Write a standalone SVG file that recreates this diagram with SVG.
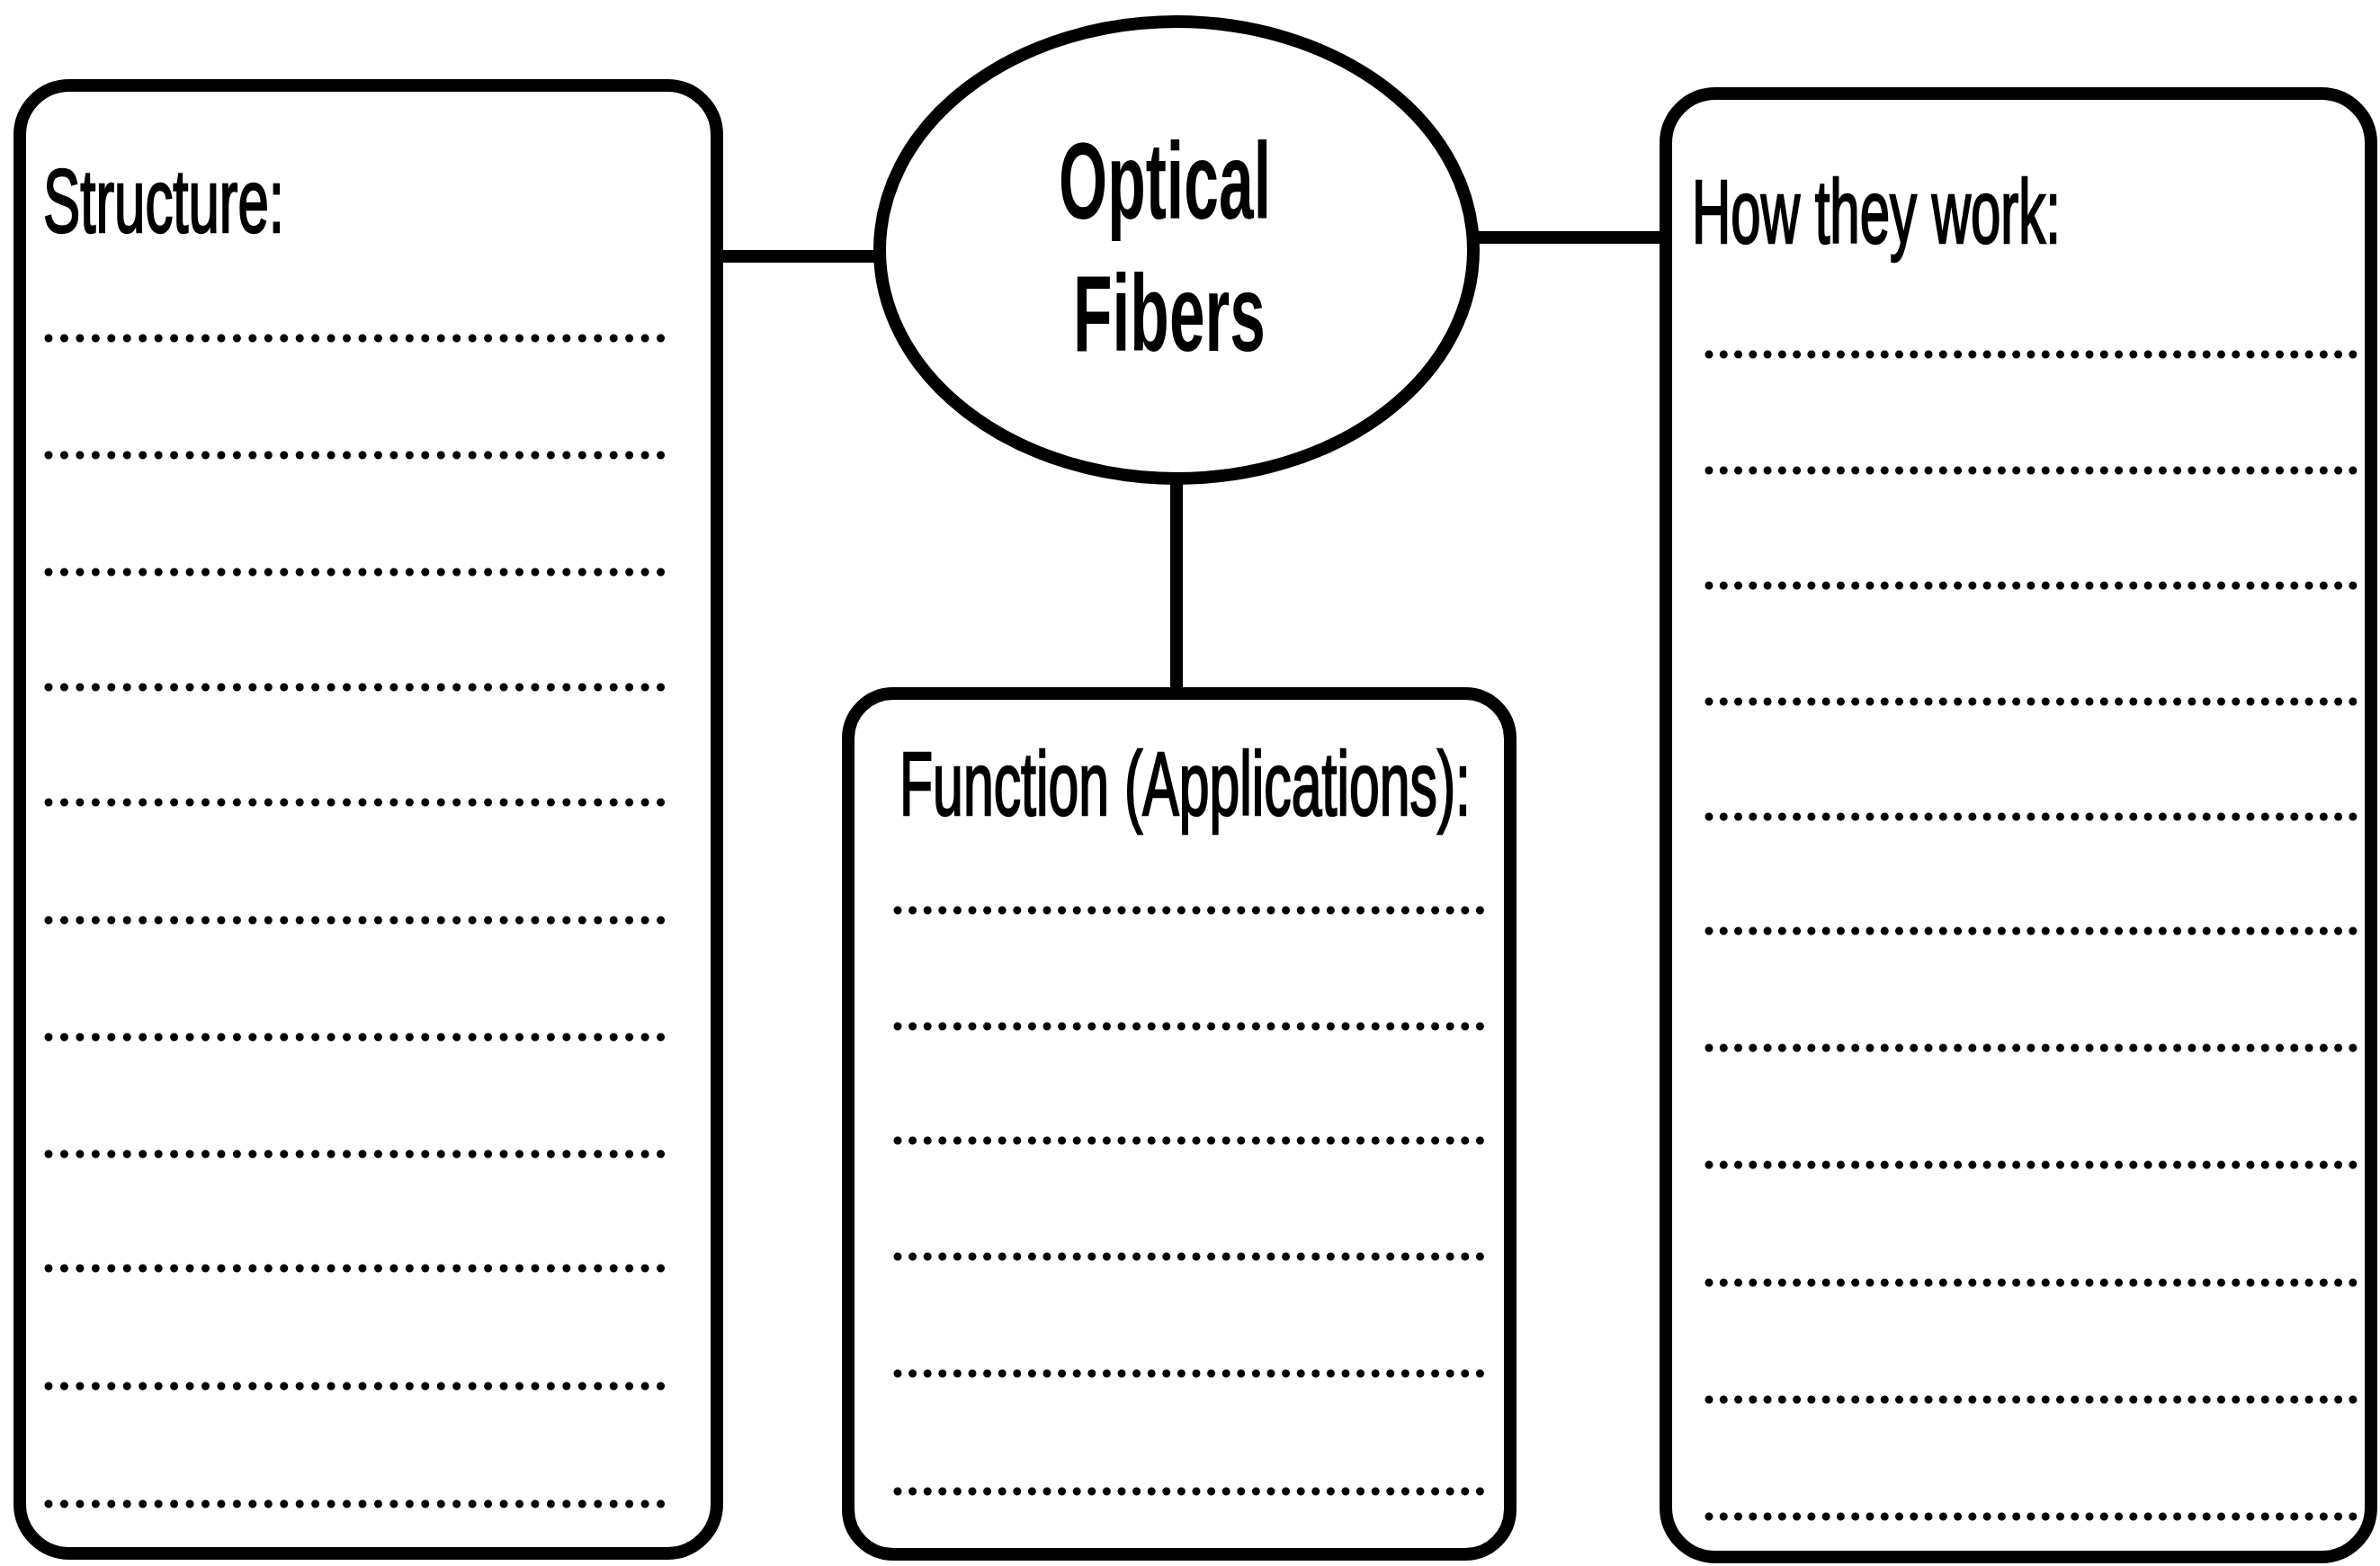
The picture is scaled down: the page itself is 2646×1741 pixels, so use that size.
<svg xmlns="http://www.w3.org/2000/svg" width="2646" height="1741" viewBox="0 0 2646 1741">
<style>
.box{fill:#fff;stroke:#000;stroke-width:14}
.conn{stroke:#000;stroke-width:14;fill:none}
.dots{stroke:#000;stroke-width:9;stroke-linecap:round;fill:none}
.lbl{font-family:"Liberation Sans",Arial,sans-serif;font-size:100px;fill:#000;stroke:#000;stroke-width:2.5}
.ttl{font-family:"Liberation Sans",Arial,sans-serif;font-size:120px;font-weight:bold;fill:#000}
</style>
<rect width="2646" height="1741" fill="#fff"/>
<g id="connectors">
<line class="conn" x1="797" y1="285" x2="975" y2="285"/>
<line class="conn" x1="1641" y1="264" x2="1852" y2="264"/>
<line class="conn" x1="1308" y1="532" x2="1308" y2="771"/>
</g>
<g id="node-structure">
<rect class="box" x="22" y="95" width="775" height="1632" rx="55"/>
<text class="lbl" x="48" y="258" textLength="268" lengthAdjust="spacingAndGlyphs">Structure:</text>
<g class="dots" stroke-dasharray="0 17.45">
<line x1="54" y1="376" x2="752" y2="376"/>
<line x1="54" y1="506" x2="752" y2="506"/>
<line x1="54" y1="636" x2="752" y2="636"/>
<line x1="54" y1="764" x2="752" y2="764"/>
<line x1="54" y1="892" x2="752" y2="892"/>
<line x1="54" y1="1023" x2="752" y2="1023"/>
<line x1="54" y1="1153" x2="752" y2="1153"/>
<line x1="54" y1="1283" x2="752" y2="1283"/>
<line x1="54" y1="1410" x2="752" y2="1410"/>
<line x1="54" y1="1541" x2="752" y2="1541"/>
<line x1="54" y1="1672" x2="752" y2="1672"/>
</g>
</g>
<g id="node-optical-fibers">
<ellipse class="box" cx="1308" cy="278" rx="330" ry="254"/>
<text class="ttl" x="1295" y="243" text-anchor="middle" textLength="236" lengthAdjust="spacingAndGlyphs">Optical</text>
<text class="ttl" x="1300" y="390" text-anchor="middle" textLength="214" lengthAdjust="spacingAndGlyphs">Fibers</text>
</g>
<g id="node-function">
<rect class="box" x="943" y="771" width="736" height="957" rx="50"/>
<text class="lbl" x="1000" y="906" textLength="635" lengthAdjust="spacingAndGlyphs">Function (Applications):</text>
<g class="dots" stroke-dasharray="0 16.6">
<line x1="998" y1="1012" x2="1646" y2="1012"/>
<line x1="998" y1="1141" x2="1646" y2="1141"/>
<line x1="998" y1="1268" x2="1646" y2="1268"/>
<line x1="998" y1="1397" x2="1646" y2="1397"/>
<line x1="998" y1="1527" x2="1646" y2="1527"/>
<line x1="998" y1="1658" x2="1646" y2="1658"/>
</g>
</g>
<g id="node-how">
<rect class="box" x="1852" y="104" width="784" height="1627" rx="55"/>
<text class="lbl" x="1881" y="270" textLength="410" lengthAdjust="spacingAndGlyphs">How they work:</text>
<g class="dots" stroke-dasharray="0 16.27">
<line x1="1900" y1="394" x2="2616" y2="394"/>
<line x1="1900" y1="523" x2="2616" y2="523"/>
<line x1="1900" y1="651" x2="2616" y2="651"/>
<line x1="1900" y1="780" x2="2616" y2="780"/>
<line x1="1900" y1="908" x2="2616" y2="908"/>
<line x1="1900" y1="1035" x2="2616" y2="1035"/>
<line x1="1900" y1="1165" x2="2616" y2="1165"/>
<line x1="1900" y1="1295" x2="2616" y2="1295"/>
<line x1="1900" y1="1426" x2="2616" y2="1426"/>
<line x1="1900" y1="1556" x2="2616" y2="1556"/>
<line x1="1900" y1="1686" x2="2616" y2="1686"/>
</g>
</g>
</svg>
